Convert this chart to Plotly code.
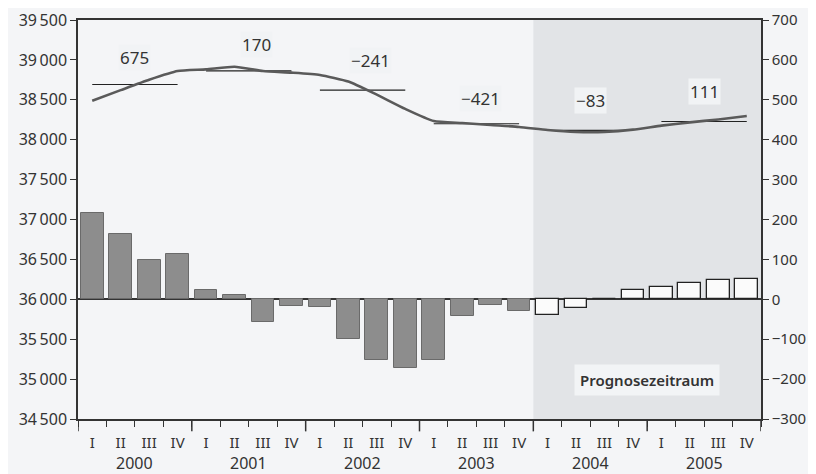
import plotly.graph_objects as go

quarters = ["I", "II", "III", "IV"] * 6
years = ["2000", "2001", "2002", "2003", "2004", "2005"]

# Level (left axis)
level = [38489, 38621, 38751, 38860,
         38881, 38915, 38860, 38840,
         38811, 38729, 38564, 38386,
         38234, 38209, 38184, 38160,
         38122, 38098, 38098, 38126,
         38176, 38217, 38254, 38296]

# Change (right axis, bars)
change = [217, 164, 99, 114,
          23, 12, -57, -18,
          -20, -100, -151, -172,
          -151, -42, -14, -30,
          -40, -22, 2, 23,
          30, 40, 48, 50]

annual_avg = [38692, 38862, 38621, 38200, 38117, 38228]
annual_change_labels = ["675", "170", "\u2212241", "\u2212421", "\u221283", "111"]

left_ticks = [34500, 35000, 35500, 36000, 36500, 37000, 37500, 38000, 38500, 39000, 39500]
left_ticktext = [f"{v // 1000}\u2009{v % 1000:03d}" for v in left_ticks]
right_ticks = [-300, -200, -100, 0, 100, 200, 300, 400, 500, 600, 700]
right_ticktext = [str(v).replace("-", "\u2212") for v in right_ticks]

forecast_start = 16  # index of 2004 Q1

FONT = "Noto Sans"
TXT = "#333333"

n = len(level)
xs = list(range(n))

fig = go.Figure()

hist_x = xs[:forecast_start]
fc_x = xs[forecast_start:]
fig.add_trace(go.Bar(
    x=hist_x, y=change[:forecast_start], yaxis="y2", width=0.8,
    marker=dict(color="#8d8d8d", line=dict(color="#6a6a6a", width=1)),
    showlegend=False, hoverinfo="skip"))
fig.add_trace(go.Bar(
    x=fc_x, y=change[forecast_start:], yaxis="y2", width=0.8,
    marker=dict(color="#fbfbfb", line=dict(color="#222222", width=1.3)),
    showlegend=False, hoverinfo="skip"))

for k, avg in enumerate(annual_avg):
    fig.add_trace(go.Scatter(
        x=[4 * k, 4 * k + 3], y=[avg, avg], mode="lines",
        line=dict(color="#222222", width=1.2), showlegend=False, hoverinfo="skip"))

fig.add_trace(go.Scatter(
    x=xs, y=level, mode="lines", line=dict(color="#5a5a5a", width=2.6, shape="spline", smoothing=0.5),
    showlegend=False, hoverinfo="skip"))

yshifts = [13, 13, 16, 12, 16, 17]
xshifts = [0, 8, 8, 4, 0, 0]
for k, lab in enumerate(annual_change_labels):
    fig.add_annotation(x=4 * k + 1.5, y=annual_avg[k], xref="x", yref="y",
                       text=lab, showarrow=False, yshift=yshifts[k], xshift=xshifts[k],
                       yanchor="bottom", font=dict(family=FONT, size=17, color=TXT),
                       bgcolor="#f1f3f5", borderpad=1)

for k, yr in enumerate(years):
    fig.add_annotation(x=4 * k + 1.5, y=-0.111, xref="x", yref="paper", text=yr,
                       showarrow=False, yanchor="middle",
                       font=dict(family=FONT, size=16, color=TXT))

fig.add_annotation(x=19.5, y=0.0965, xref="x", yref="paper", text="Prognosezeitraum",
                   showarrow=False, yanchor="middle",
                   font=dict(family=FONT, size=15, color=TXT, weight=600),
                   bgcolor="#f2f4f6", borderpad=5)

fig.add_shape(type="rect", xref="x", yref="paper", x0=forecast_start - 0.5, x1=n - 0.5,
              y0=0, y1=1, fillcolor="#e2e4e7", line=dict(width=0), layer="below")

for b in range(0, n + 1, 4):
    fig.add_shape(type="line", xref="x", yref="paper", x0=b - 0.5, x1=b - 0.5,
                  y0=0, y1=-0.031, line=dict(color="#333333", width=1.5))

# The page body has an 8px default margin, so the figure is sized to fit the window.
fig.update_layout(
    width=808, height=466,
    margin=dict(l=70, r=55, t=12, b=55),
    paper_bgcolor="#f4f5f7", plot_bgcolor="#f4f5f7",
    bargap=0, barmode="overlay",
    font=dict(family=FONT, size=16, color=TXT),
    xaxis=dict(range=[-0.5, n - 0.5], tickmode="array", tickvals=xs, ticktext=quarters,
               ticks="", ticklabelstandoff=9, showgrid=False, zeroline=False, automargin=False,
               showline=True, linecolor="#333333", linewidth=1.5, mirror=True,
               ticklabeloverflow="allow",
               tickfont=dict(family=FONT, size=15, color=TXT),
               minor=dict(tickmode="array", tickvals=[i - 0.5 for i in range(n + 1)],
                          ticks="outside", ticklen=6, tickcolor="#333333", tickwidth=1.2)),
    yaxis=dict(range=[34500, 39500], tickmode="array", tickvals=left_ticks, ticktext=left_ticktext,
               ticks="outside", ticklen=6, tickcolor="#333333", showgrid=False, zeroline=False,
               showline=True, linecolor="#333333", linewidth=1.5, automargin=False,
               ticklabeloverflow="allow",
               tickfont=dict(family=FONT, size=16, color=TXT)),
    yaxis2=dict(range=[-300, 700], overlaying="y", side="right", tickmode="array",
                tickvals=right_ticks, ticktext=right_ticktext, ticks="outside", ticklen=6,
                tickcolor="#333333", showgrid=False, zeroline=True, zerolinecolor="#333333",
                zerolinewidth=1.5, showline=True, linecolor="#333333", linewidth=1.5,
                automargin=False, ticklabeloverflow="allow",
                tickfont=dict(family=FONT, size=15, color=TXT)),
)

fig.write_html("out.html")
